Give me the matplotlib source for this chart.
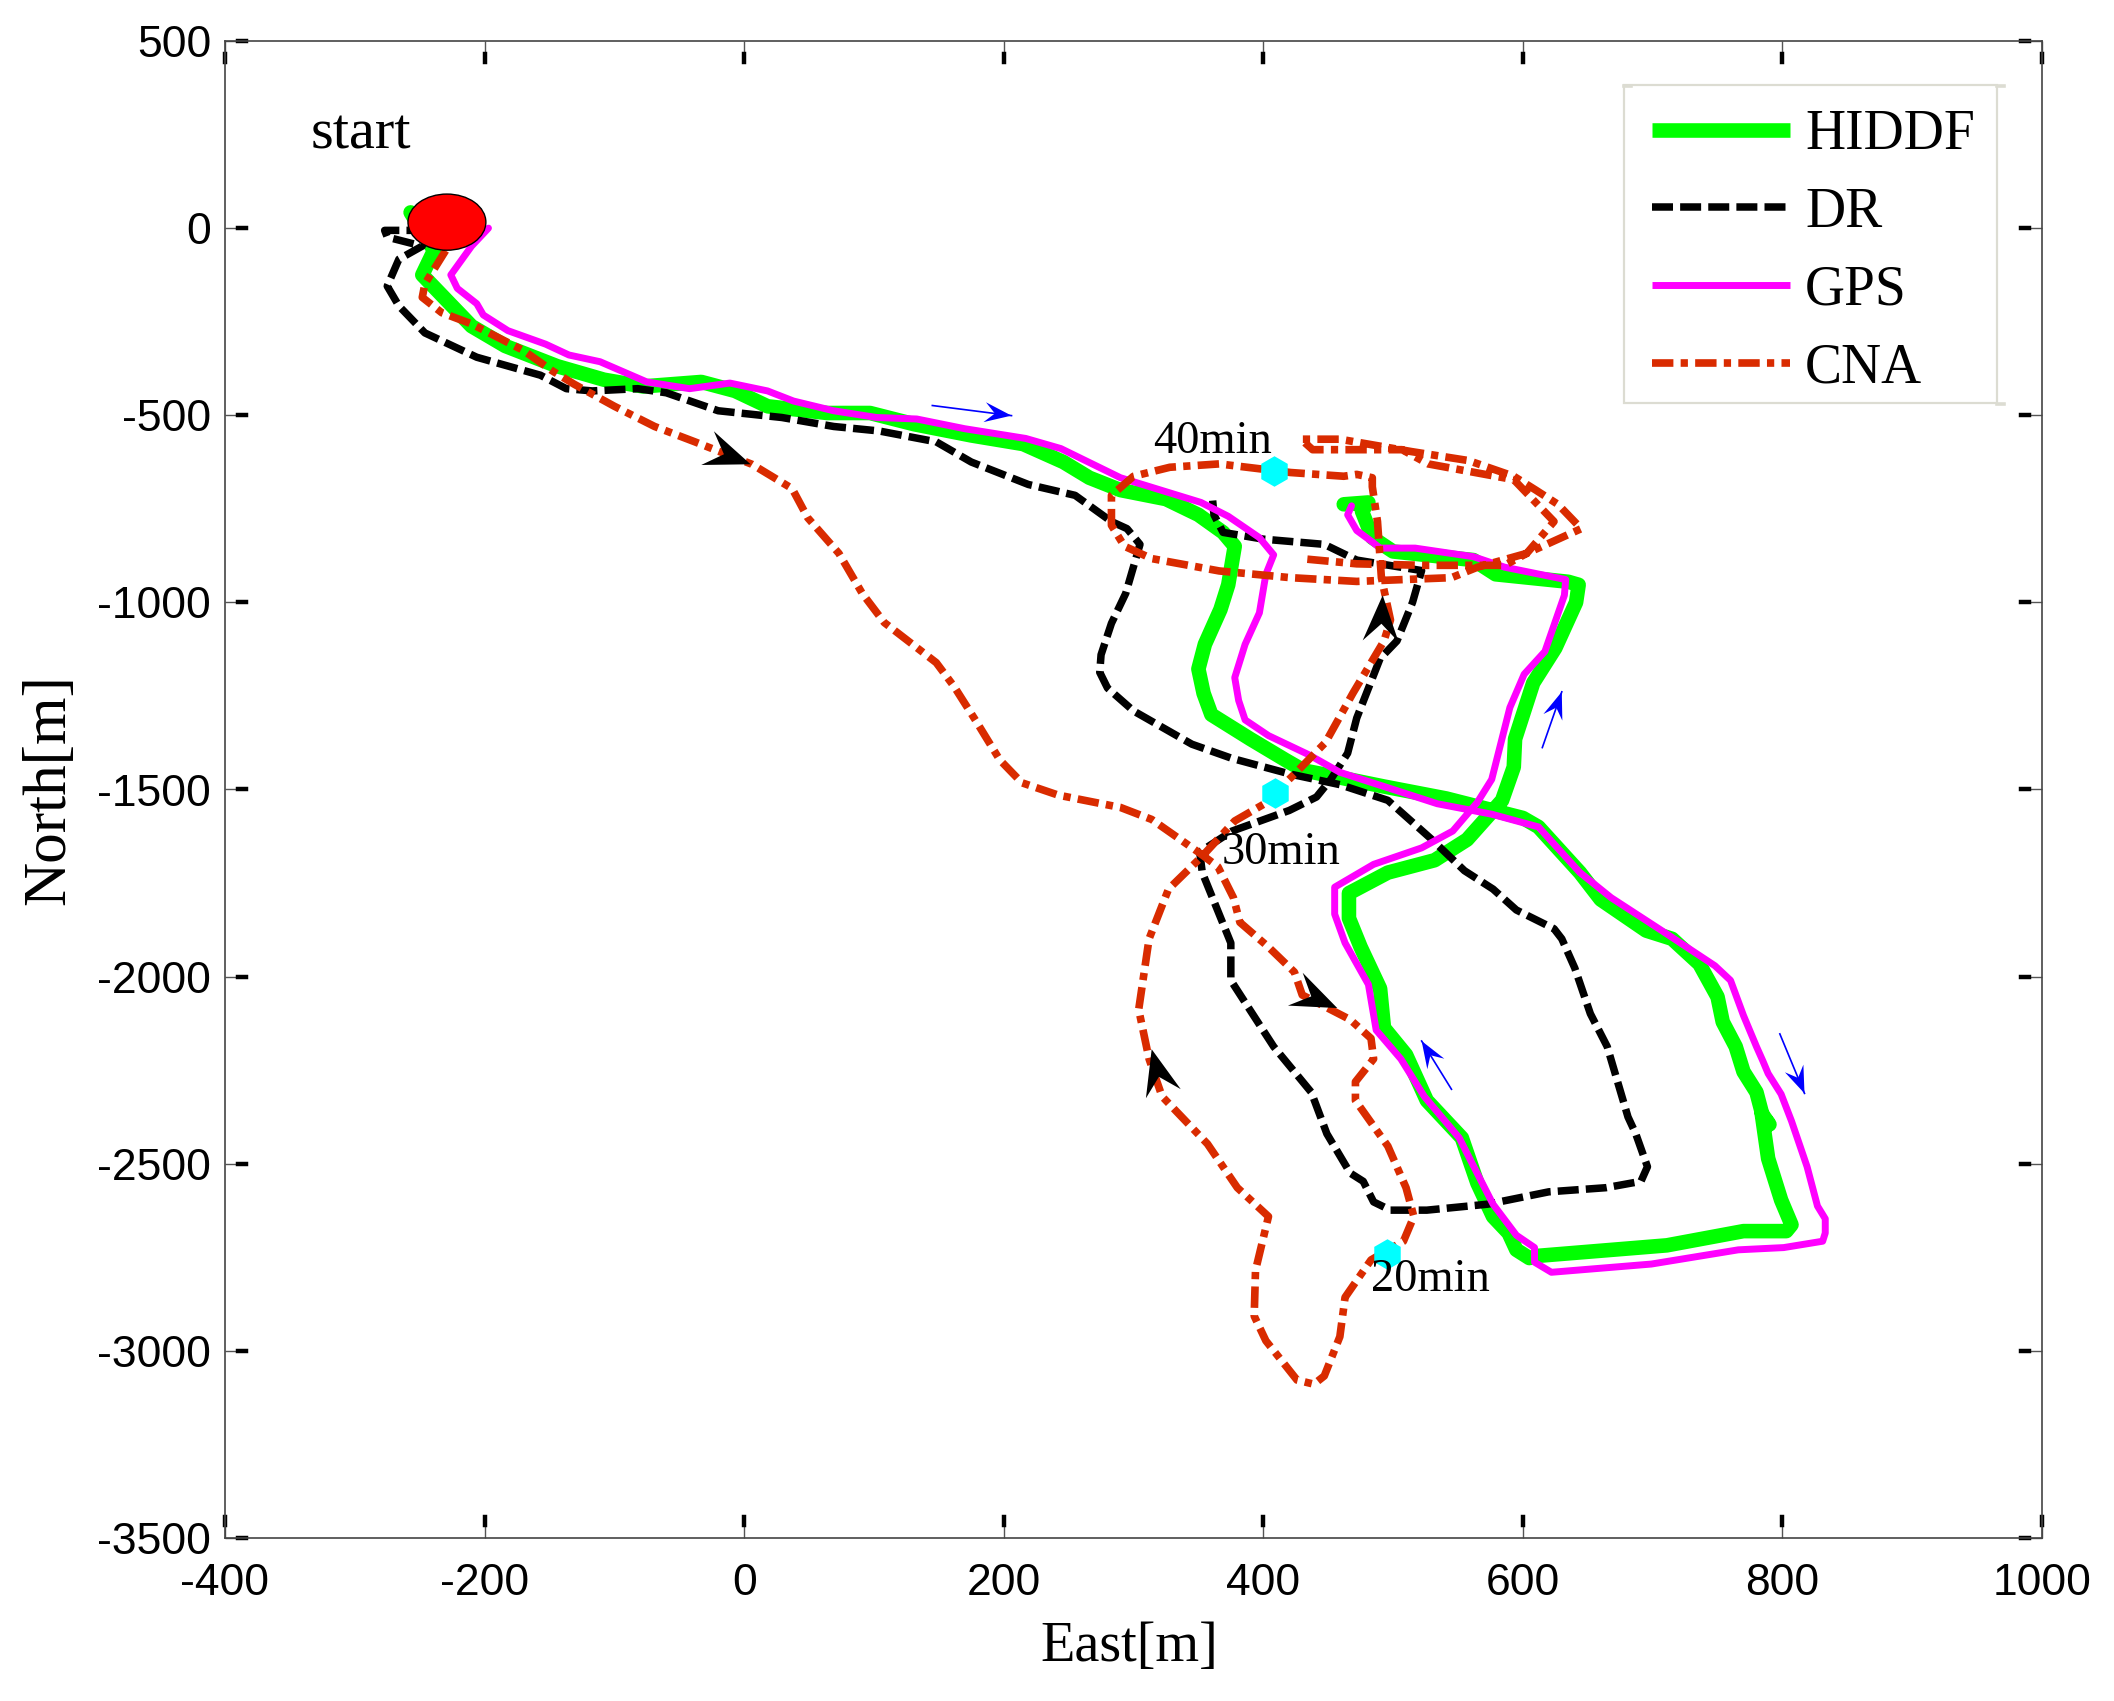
import numpy as np
import matplotlib
matplotlib.use("Agg")
import matplotlib.pyplot as plt
from matplotlib.lines import Line2D
from matplotlib.patches import Ellipse, Polygon, Rectangle
from matplotlib.transforms import blended_transform_factory

plt.rcParams["font.family"] = ["Liberation Sans", "DejaVu Sans"]

SERIF = "Liberation Serif"
GREEN, MAGENTA, RED = "#00ff00", "#ff00ff", "#d92b00"

hiddf_east = [-257, -239, -248, -210, -184, -144, -108, -78, -33, -7, 18, 64, 97, 131, 175, 215, 246,
              266, 290, 325, 350, 369, 378, 373, 367, 355, 350, 354, 360, 390, 417, 431, 459, 493, 541, 600,
              612, 644, 660, 695, 715, 736, 750, 754, 764, 770, 780, 785, 790, 784, 789, 799, 807, 803, 770, 711,
              612, 605, 595, 589, 577, 565, 553, 526, 510, 493, 490, 475, 466, 466, 496, 532, 557, 584, 593, 594,
              608, 625, 641, 643, 635, 579, 562, 500, 484, 476, 481, 462]
hiddf_north = [42, -60, -125, -262, -315, -369, -405, -423, -411, -435, -476, -494, -494, -524, -554, -577, -625,
               -667, -700, -724, -766, -813, -850, -953, -1019, -1112, -1178, -1243, -1300, -1365, -1421, -1449, -1468, -1492, -1524, -1576,
               -1600, -1722, -1794, -1877, -1899, -1966, -2054, -2121, -2187, -2254, -2309, -2375, -2395, -2365, -2486, -2597, -2663, -2680, -2680, -2718,
               -2746, -2752, -2730, -2685, -2641, -2552, -2431, -2331, -2209, -2137, -2032, -1921, -1844, -1777, -1722, -1689, -1634, -1529, -1440, -1365,
               -1215, -1122, -1000, -953, -945, -925, -887, -864, -827, -756, -733, -738]

dr_east = [-244, -277, -275, -248, -266, -275, -266, -246, -206, -157, -137, -117, -82, -60, -20, 29, 69, 104, 148, 175, 219, 255,
           283, 295, 305, 294, 283, 275, 274, 280, 300, 345, 376, 421, 459, 496, 530, 555, 577, 595, 624, 630, 640, 652, 665,
           681, 687, 696, 691, 664, 620, 573, 526, 498, 485, 477, 467, 449, 437, 408, 375, 375, 353, 351, 376, 420, 441, 452,
           465, 472, 490, 503, 515, 522, 472, 447, 400, 369, 362, 361]
dr_north = [-6, -6, -24, -48, -83, -155, -208, -280, -345, -393, -429, -435, -429, -440, -488, -506, -530, -542, -571, -625, -685, -714,
            -784, -803, -845, -976, -1056, -1140, -1187, -1229, -1290, -1379, -1417, -1459, -1487, -1529, -1634, -1717, -1766, -1822, -1872, -1899, -1977, -2099, -2187,
            -2375, -2420, -2508, -2547, -2564, -2575, -2608, -2624, -2624, -2602, -2547, -2525, -2420, -2309, -2187, -2010, -1910, -1722, -1667, -1611, -1556, -1520, -1473,
            -1403, -1309, -1150, -1103, -1000, -915, -887, -845, -831, -813, -766, -728]

gps_east = [-197, -210, -226, -221, -206, -201, -182, -153, -135, -111, -75, -42, -11, 18, 38, 69, 102, 133, 170, 217, 244,
            290, 352, 373, 397, 408, 402, 397, 386, 378, 381, 386, 404, 435, 459, 493, 534, 576, 612,
            644, 668, 707, 748, 760, 770, 780, 785, 789, 799, 807, 819, 827, 833, 833, 831, 801, 766, 699, 622, 609, 609, 595, 577,
            559, 551, 524, 506, 487, 481, 463, 455, 455, 485, 522, 546, 565, 576, 590, 601, 617, 632, 633, 586, 562, 517, 490, 483, 472, 465, 468]
gps_north = [0, -48, -125, -161, -202, -232, -274, -310, -339, -357, -411, -429, -414, -435, -462, -488, -506, -510, -536, -562, -589,
             -667, -733, -770, -827, -873, -925, -1028, -1112, -1201, -1262, -1314, -1356, -1407, -1454, -1492, -1538, -1566, -1600,
             -1722, -1789, -1877, -1971, -2010, -2104, -2187, -2226, -2259, -2314, -2386, -2508, -2613, -2647, -2685, -2707, -2724, -2730, -2768, -2790, -2763, -2724, -2691, -2608,
             -2486, -2431, -2320, -2220, -2143, -2021, -1910, -1833, -1761, -1700, -1656, -1611, -1534, -1473, -1281, -1192, -1131, -981, -939, -906, -878, -855, -855, -836, -808, -766, -742]

cna_east = [-230, -246, -248, -233, -210, -170, -148, -131, -100, -69, -38, 6, 37, 49, 73, 91, 108, 148, 162, 179,
            197, 214, 242, 290, 314, 349, 365, 377, 382, 404, 424, 430, 467, 483, 485, 471, 471, 496, 510, 516, 508, 483, 463, 459,
            447, 439, 426, 402, 393, 394, 404, 380, 357, 322, 312, 304, 312, 327, 353, 378, 400, 424, 448, 469, 493, 498, 491,
            488, 484, 484, 472, 462, 421, 366, 328, 300, 283, 283, 293, 314, 366, 421, 472, 545, 565, 603, 645, 627, 610, 593, 558, 514,
            459, 429, 438, 507, 527, 593, 624, 603, 586, 524, 472, 429]
cna_north = [-60, -149, -185, -226, -256, -327, -381, -417, -476, -530, -571, -631, -696, -774, -869, -976, -1054, -1161, -1226, -1319,
             -1421, -1482, -1515, -1548, -1580, -1665, -1706, -1789, -1855, -1921, -1988, -2049, -2115, -2165, -2220, -2281, -2331, -2453, -2564, -2641, -2707, -2757, -2857, -2962,
             -3067, -3089, -3078, -2973, -2907, -2785, -2641, -2564, -2447, -2320, -2220, -2088, -1899, -1766, -1678, -1584, -1540, -1459, -1374, -1243, -1103, -1047, -934,
             -784, -691, -667, -658, -663, -653, -630, -639, -663, -714, -794, -850, -883, -916, -934, -944, -934, -906, -869, -803, -738, -700, -663, -621, -597,
             -564, -564, -592, -592, -630, -672, -784, -869, -901, -901, -897, -883]

time_east = [408, 409, 495]
time_north = [-650, -1510, -2741]
time_labels = ["40min", "30min", "20min"]
time_label_east = [315, 368, 483]
time_label_north = [-571, -1670, -2811]

black_tip_east = [5, 492, 457, 314]
black_tip_north = [-631, -981, -2084, -2194]
black_dir_x = [40, 2, 40, -11]
black_dir_y = [15, -45, 18, -42]

blue_from_east = [145, 615, 545, 798]
blue_from_north = [-474, -1388, -2301, -2153]
blue_to_east = [206, 630, 522, 817]
blue_to_north = [-501, -1239, -2172, -2312]

x_ticks = [-400, -200, 0, 200, 400, 600, 800, 1000]
y_ticks = [500, 0, -500, -1000, -1500, -2000, -2500, -3000, -3500]


def stealth_head(ax, east, north, dx, dy, length, width, color, zorder=8):
    # concave arrow head, size in pixels, direction in pixels (y down)
    tip = ax.transData.transform((east, north))
    d = np.array([dx, -dy], dtype=float)
    d /= np.linalg.norm(d)
    n = np.array([-d[1], d[0]])
    back = tip - d * length
    pts = [tip, back + n * width / 2, tip - d * length * 0.62, back - n * width / 2]
    ax.add_patch(Polygon(pts, closed=True, transform=None, fc=color, ec="none", zorder=zorder))


fig = plt.figure(figsize=(21.14, 17.01), dpi=100)
ax = fig.add_axes([225 / 2114, 1 - 1538 / 1701, 1817 / 2114, 1497 / 1701])
ax.set_xlim(-400, 1000)
ax.set_ylim(-3500, 500)

ax.plot(hiddf_east, hiddf_north, color=GREEN, lw=10.5, solid_joinstyle="round", solid_capstyle="round", label="HIDDF")
ax.plot(dr_east, dr_north, color="black", lw=5.4, linestyle=(0, (2.8, 0.95)), label="DR")
ax.plot(gps_east, gps_north, color=MAGENTA, lw=5, solid_joinstyle="round", solid_capstyle="round", label="GPS")
ax.plot(cna_east, cna_north, color=RED, lw=5.5, linestyle=(0, (2.8, 0.95, 0.95, 0.95)), label="CNA")

ax.add_patch(Ellipse((-229, 16), 60, 150, fc="#ff0000", ec="black", lw=1, zorder=6))
ax.plot(time_east, time_north, linestyle="none", marker="h", ms=22, color="#00ffff", mec="none", zorder=5)

for e, n, dx, dy in zip(black_tip_east, black_tip_north, black_dir_x, black_dir_y):
    stealth_head(ax, e, n, dx, dy, 46, 36, "black")
for e0, n0, e1, n1 in zip(blue_from_east, blue_from_north, blue_to_east, blue_to_north):
    ax.plot([e0, e1], [n0, n1], color="#0000ff", lw=1.2, zorder=7)
    p0 = ax.transData.transform((e0, n0))
    p1 = ax.transData.transform((e1, n1))
    stealth_head(ax, e1, n1, p1[0] - p0[0], p0[1] - p1[1], 27, 20, "#0000ff")

ax.text(-334, 250, "start", family=SERIF, fontsize=42, va="center", ha="left", zorder=9)
for lab, e, n in zip(time_labels, time_label_east, time_label_north):
    ax.text(e, n, lab, family=SERIF, fontsize=33.5, va="center", ha="left", zorder=9)

ax.set_xticks(x_ticks)
ax.set_yticks(y_ticks)
ax.set_xticklabels([str(v) for v in x_ticks])
ax.set_yticklabels([str(v) for v in y_ticks])
ax.tick_params(axis="both", direction="in", top=True, right=True, length=10, width=1, color="#555555", labelsize=32)
ax.tick_params(axis="x", pad=18)
ax.tick_params(axis="y", pad=10)
for s in ax.spines.values():
    s.set_color("#444444")
    s.set_linewidth(1.2)

# little black stubs at the end of every tick
tx = blended_transform_factory(ax.transAxes, ax.transData)
ty = blended_transform_factory(ax.transData, ax.transAxes)
for v in y_ticks:
    ax.add_line(Line2D([0.0072, 0.0116], [v, v], transform=tx, color="black", lw=3.2, clip_on=False))
    ax.add_line(Line2D([0.9884, 0.9928], [v, v], transform=tx, color="black", lw=3.2, clip_on=False))
for v in x_ticks:
    ax.add_line(Line2D([v, v], [0.986, 0.9915], transform=ty, color="black", lw=3.2, clip_on=False))
    ax.add_line(Line2D([v, v], [0.0085, 0.014], transform=ty, color="black", lw=3.2, clip_on=False))

ax.set_xlabel("East[m]", family=SERIF, fontsize=40.5, va="center")
ax.xaxis.set_label_coords(0.4975, -0.073)
ax.set_ylabel("North[m]", family=SERIF, fontsize=44, va="center")
ax.yaxis.set_label_coords(-0.0965, 0.5)

# legend frame is drawn by hand so it can be as short as the original one
box_x0, box_x1 = (1624 - 225) / 1817, (1997 - 225) / 1817
box_y0, box_y1 = (1538 - 403) / 1497, (1538 - 85) / 1497
ax.add_patch(Rectangle((box_x0, box_y0), box_x1 - box_x0, box_y1 - box_y0, transform=ax.transAxes, fc="white",
                       ec="#dcdcd2", lw=1.6, zorder=9.5))
stub = dict(transform=ax.transAxes, color="#dcdcd2", lw=2.6, zorder=9.6, clip_on=False)
ax.add_line(Line2D([box_x0, box_x0 + 0.004], [box_y1 - 0.001] * 2, **stub))
ax.add_line(Line2D([box_x1, box_x1 + 0.004], [box_y1 - 0.001] * 2, **stub))
ax.add_line(Line2D([box_x1, box_x1 + 0.004], [box_y0 - 0.001] * 2, **stub))

leg = ax.legend(loc="upper left", bbox_to_anchor=(box_x0, box_y1 + 0.0025), borderaxespad=0, frameon=False,
                handlelength=2.49, handletextpad=0.27, labelspacing=0.465, borderpad=0.5,
                prop={"family": SERIF, "size": 40})
for h in leg.get_lines():
    h.set_solid_capstyle("butt")
leg.set_zorder(10)

fig.savefig("out.png", dpi=100)
